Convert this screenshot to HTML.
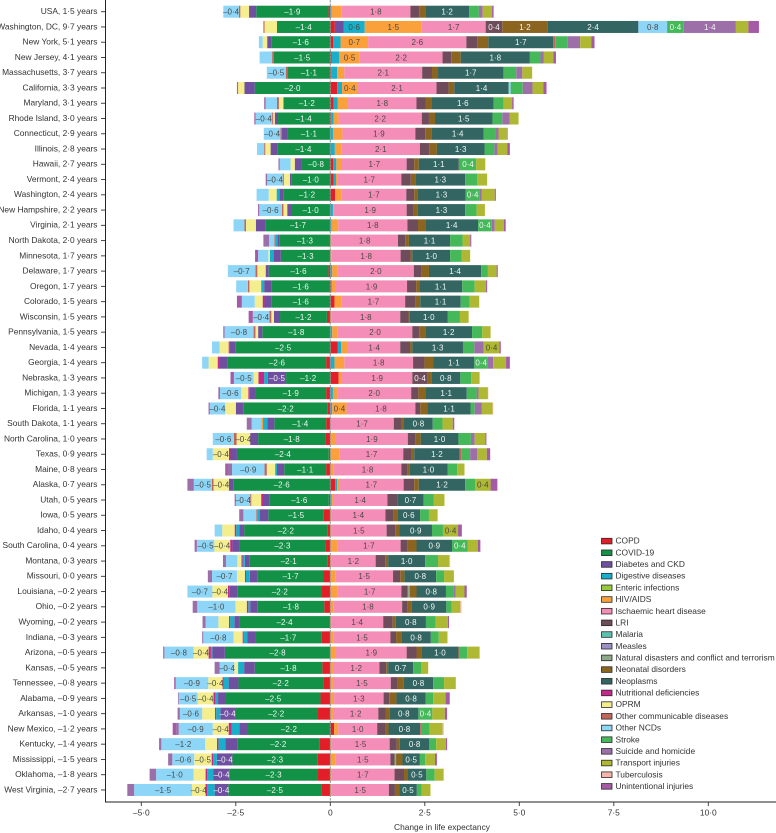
<!DOCTYPE html>
<html lang="en">
<head>
<meta charset="utf-8">
<title>Change in life expectancy by state and cause</title>
<style>
html,body{margin:0;padding:0;background:#fff;}
svg{display:block;}
text{font-family:"Liberation Sans",sans-serif;}
</style>
</head>
<body>
<svg id="chart" xmlns="http://www.w3.org/2000/svg" width="776" height="833" viewBox="0 0 776 833"></svg>
<script>
const causes = ["COPD","COVID-19","Diabetes and CKD","Digestive diseases","Enteric infections","HIV/AIDS","Ischaemic heart disease","LRI","Malaria","Measles","Natural disasters and conflict and terrorism","Neonatal disorders","Neoplasms","Nutritional deficiencies","OPRM","Other communicable diseases","Other NCDs","Stroke","Suicide and homicide","Transport injuries","Tuberculosis","Unintentional injuries"];
const causeColors = ["#e21f28","#129147","#6f4fa0","#17afc9","#97c93d","#fba13c","#f48db7","#6f4c5b","#5cc2ad","#9c8fc4","#8fa98a","#8b6520","#336663","#c4288a","#f5ee8f","#c2665a","#8ed6f8","#45b95a","#9d6fa8","#afb832","#f6b5a8","#a55aa5"];
const darkLabelCauses = ["Digestive diseases","HIV/AIDS","Ischaemic heart disease","OPRM","Other NCDs","Transport injuries"];
const stateLabels = ["USA, 1·5 years","Washington, DC, 9·7 years","New York, 5·1 years","New Jersey, 4·1 years","Massachusetts, 3·7 years","California, 3·3 years","Maryland, 3·1 years","Rhode Island, 3·0 years","Connecticut, 2·9 years","Illinois, 2·8 years","Hawaii, 2·7 years","Vermont, 2·4 years","Washington, 2·4 years","New Hampshire, 2·2 years","Virginia, 2·1 years","North Dakota, 2·0 years","Minnesota, 1·7 years","Delaware, 1·7 years","Oregon, 1·7 years","Colorado, 1·5 years","Wisconsin, 1·5 years","Pennsylvania, 1·5 years","Nevada, 1·4 years","Georgia, 1·4 years","Nebraska, 1·3 years","Michigan, 1·3 years","Florida, 1·1 years","South Dakota, 1·1 years","North Carolina, 1·0 years","Texas, 0·9 years","Maine, 0·8 years","Alaska, 0·7 years","Utah, 0·5 years","Iowa, 0·5 years","Idaho, 0·4 years","South Carolina, 0·4 years","Montana, 0·3 years","Missouri, 0·0 years","Louisiana, –0·2 years","Ohio, –0·2 years","Wyoming, –0·2 years","Indiana, –0·3 years","Arizona, –0·5 years","Kansas, –0·5 years","Tennessee, –0·8 years","Alabama, –0·9 years","Arkansas, –1·0 years","New Mexico, –1·2 years","Kentucky, –1·4 years","Mississippi, –1·5 years","Oklahoma, –1·8 years","West Virginia, –2·7 years"];
const xTickValues = [-5,-2.5,0,2.5,5,7.5,10];
const xTickLabels = ["–5·0","–2·5","0","2·5","5·0","7·5","10·0"];

/* Each state's values follow the order of the causes array. */
const usa = [-.05,-1.91,-.19,.03,0,.26,1.83,.23,0,0,0,.16,1.16,0,-.23,-.04,-.41,.26,.1,.25,0,.04];
const dc = [.12,-1.41,.23,.56,0,1.51,1.69,.44,0,0,0,1.2,2.4,0,-.33,-.03,.76,.44,1.38,.33,0,.28];
const newYork = [.08,-1.56,-.11,.19,0,.73,2.6,.29,0,0,0,.29,1.72,0,-.12,.05,-.1,.33,.33,.3,0,.08];
const newJersey = [.04,-1.49,0,.2,0,.54,2.19,.23,0,0,0,.25,1.83,0,0,-.05,-.33,.28,.09,.25,0,.07];
const massachusetts = [.02,-1.13,0,.16,0,.19,2.06,.26,0,0,0,.16,1.73,0,0,-.05,-.5,.34,.16,.26,0,0];
const california = [.18,-2.0,-.27,.13,0,.41,2.09,.32,0,0,0,.15,1.44,0,-.17,-.03,.05,.32,.26,.29,0,.08];
const maryland = [.09,-1.24,0,.11,0,.27,1.81,.25,0,0,0,.16,1.63,0,-.12,-.05,-.3,.26,-.04,.23,0,.04];
const rhodeIsland = [.02,-1.41,-.06,.07,0,.13,2.2,.19,0,0,0,.16,1.52,0,-.04,-.03,-.44,.26,.19,.24,0,-.03];
const connecticut = [0,-1.13,-.15,.07,0,.25,1.93,.26,0,0,0,.17,1.38,0,0,-.04,-.44,.3,.09,.22,0,.02];
const illinois = [-.02,-1.38,-.18,.12,0,.18,2.07,.25,0,0,0,.2,1.26,0,-.14,-.03,-.19,.26,.09,.25,0,.07];
const hawaii = [.08,-.76,-.18,.08,0,.15,1.71,.2,0,0,0,.12,1.06,0,-.11,.03,-.29,.43,0,.24,0,-.03];
const vermont = [.09,-1.03,-.04,.06,0,.03,1.7,.25,0,0,0,.12,1.32,0,-.16,-.03,-.41,.32,-.04,.26,0,0];
const washington = [.13,-1.23,-.12,-.07,0,.17,1.71,.21,0,0,0,.08,1.28,0,-.21,0,-.32,.37,.06,.34,0,.03];
const newHampshire = [0,-1.04,-.1,.07,0,.02,1.93,.19,0,0,0,.1,1.26,0,-.1,-.04,-.6,.3,0,.22,0,-.03];
const virginia = [0,-1.71,-.26,.03,0,.18,1.83,.28,0,0,0,.19,1.4,0,-.26,-.04,-.29,.36,.08,.24,0,.05];
const northDakota = [0,-1.34,-.06,-.04,0,.03,1.76,.19,0,0,0,.1,1.09,0,0,-.04,-.14,.33,-.15,.2,0,.03];
const minnesota = [0,-1.31,-.19,-.1,0,.04,1.82,.26,0,0,0,.05,1.0,0,-.04,0,-.27,.3,0,.23,0,-.08];
const delaware = [-.05,-1.58,-.08,.05,0,.15,2.01,.2,0,0,0,.2,1.38,0,-.22,-.05,-.73,.18,0,.23,0,.03];
const oregon = [.03,-1.56,-.19,-.08,0,.12,1.88,.24,0,0,0,.08,1.14,0,-.31,-.04,-.31,.33,0,.3,0,.03];
const colorado = [.11,-1.56,-.18,0,0,.19,1.68,.28,0,0,0,.12,1.07,-.05,-.21,0,-.34,.24,0,.25,0,-.13];
const wisconsin = [-.09,-1.24,-.16,0,0,.03,1.82,.22,0,0,0,.03,1.01,0,-.07,-.05,-.44,.32,0,.23,0,-.11];
const pennsylvania = [0,-1.8,-.11,.05,0,.15,1.97,.18,0,0,0,.16,1.24,0,-.07,-.05,-.77,.27,0,.22,0,-.03];
const nevada = [.2,-2.5,-.16,.09,0,.18,1.38,.26,0,0,0,.06,1.34,-.03,-.24,0,-.2,.3,.25,.41,0,.04];
const georgia = [-.11,-2.6,-.22,.11,0,.26,1.82,.3,0,0,0,.24,1.08,-.05,-.24,0,-.17,.36,.14,.34,0,.1];
const nebraska = [.22,-1.17,-.48,-.1,0,.09,1.86,.41,0,0,0,.09,.77,-.15,-.13,0,-.52,.29,0,.22,0,-.09];
const michigan = [-.11,-1.87,-.15,.07,0,.11,1.96,.19,0,0,0,.19,1.09,-.04,-.19,0,-.56,.26,.05,.25,.01,-.04];
const florida = [-.07,-2.22,-.21,.05,0,.38,1.82,.13,0,0,0,.19,1.14,0,-.28,0,-.41,.11,.19,.28,.02,-.03];
const southDakota = [-.11,-1.37,-.19,-.11,0,-.04,1.68,.19,0,0,0,.08,.76,0,0,0,-.26,.26,-.13,.27,0,.04];
const northCarolina = [-.13,-1.78,-.21,0,0,.15,1.9,.2,0,0,0,.14,1.0,0,-.36,-.07,-.56,.33,.1,.28,0,.03];
const texas = [-.04,-2.43,-.17,0,0,.25,1.68,.22,0,0,0,.07,1.2,-.04,-.43,.04,-.16,.24,.19,.25,0,.09];
const maine = [-.11,-1.11,-.19,-.05,0,.09,1.79,.17,0,0,0,.04,1.01,0,-.22,-.06,-.86,.26,-.12,.19,0,-.06];
const alaska = [.13,-2.57,-.11,.05,0,.05,1.71,.28,0,0,0,.12,1.23,0,-.41,-.04,-.48,.26,-.17,.41,0,.18];
const utah = [-.04,-1.56,-.18,.04,0,.03,1.44,.26,0,0,0,0,.7,-.05,-.26,-.03,-.38,.26,0,.29,0,-.03];
const iowa = [-.17,-1.47,-.22,-.07,0,.02,1.44,.2,0,0,0,.11,.61,0,0,-.03,-.34,.23,-.11,.23,0,0];
const idaho = [-.07,-2.21,-.13,-.08,0,.02,1.47,.23,0,0,0,.11,.86,-.04,-.33,0,-.2,.29,0,.4,0,.1];
const southCarolina = [-.13,-2.27,-.19,0,0,.18,1.68,.19,0,0,0,.23,.94,-.06,-.42,0,-.46,.41,-.06,.27,0,.07];
const montana = [-.07,-2.06,-.13,-.06,0,.02,1.18,.25,0,0,0,.08,.98,-.03,-.11,0,-.3,.34,-.08,.29,.03,0];
const missouri = [-.18,-1.74,-.21,-.1,0,.13,1.53,.19,0,0,0,.11,.84,-.03,-.21,0,-.66,.21,-.11,.26,0,0];
const louisiana = [-.22,-2.23,-.21,0,0,.2,1.68,.17,0,0,.05,.18,.78,-.05,-.41,0,-.66,.19,.07,.23,0,.06];
const ohio = [-.16,-1.76,-.2,-.05,0,.09,1.81,.15,0,0,0,.11,.91,-.04,-.3,0,-1.01,.14,-.12,.23,.03,0];
const wyoming = [-.02,-2.38,-.14,-.11,0,.02,1.38,.25,0,0,0,.08,.8,-.03,-.28,0,-.34,.26,-.08,.32,0,.03];
const indiana = [-.24,-1.74,-.22,-.09,0,.09,1.5,.15,0,0,0,.14,.78,-.03,-.24,0,-.8,.21,-.03,.23,0,0];
const arizona = [0,-2.79,-.33,-.04,0,.15,1.87,.26,0,0,0,.13,.98,-.06,-.4,.03,-.77,.2,0,.33,0,-.03];
const kansas = [-.21,-1.79,-.28,-.16,0,.07,1.23,.18,0,0,0,.05,.66,0,-.1,0,-.39,.21,-.13,.19,0,0];
const tennessee = [-.19,-2.24,-.26,-.13,0,.07,1.53,.18,0,0,0,.16,.78,-.03,-.38,0,-.86,.29,0,.31,0,-.04];
const alabama = [-.26,-2.5,-.21,-.07,0,.1,1.31,.15,0,0,0,.19,.77,-.05,-.42,0,-.5,.2,-.02,.33,0,.11];
const arkansas = [-.34,-2.18,-.39,-.11,0,.07,1.2,.19,0,0,0,.1,.77,-.03,-.34,0,-.59,.37,-.06,.33,0,.06];
const newMexico = [.1,-2.19,-.22,-.2,0,.11,1.03,.23,0,0,0,.07,.84,-.08,-.42,.02,-.9,.23,-.07,.34,.03,-.09];
const kentucky = [-.29,-2.17,-.32,-.18,0,.03,1.54,.19,0,0,0,.08,.78,-.04,-.31,0,-1.16,.18,-.06,.26,0,.03];
const mississippi = [-.33,-2.26,-.41,-.1,0,.13,1.46,.11,0,0,.04,.17,.46,-.04,-.46,0,-.58,.14,-.11,.26,0,.05];
const oklahoma = [-.34,-2.32,-.43,-.17,0,.02,1.68,.25,0,0,0,.09,.5,-.04,-.32,0,-.99,.22,-.17,.23,.02,0];
const westVirginia = [-.23,-2.47,-.36,-.2,0,.03,1.52,.16,0,0,0,.11,.47,-.04,-.36,0,-1.53,.13,-.18,.23,0,0];

const stateValues = [usa,dc,newYork,newJersey,massachusetts,california,maryland,rhodeIsland,connecticut,illinois,hawaii,vermont,washington,newHampshire,virginia,northDakota,minnesota,delaware,oregon,colorado,wisconsin,pennsylvania,nevada,georgia,nebraska,michigan,florida,southDakota,northCarolina,texas,maine,alaska,utah,iowa,idaho,southCarolina,montana,missouri,louisiana,ohio,wyoming,indiana,arizona,kansas,tennessee,alabama,arkansas,newMexico,kentucky,mississippi,oklahoma,westVirginia];

const NS = "http://www.w3.org/2000/svg";
const svg = document.getElementById("chart");
const xZero = 330.3, xPerUnit = 37.8;
const rowFirst = 11.7, rowStep = 15.26, barHeight = 12;
const axisLeft = 105.5, axisBottom = 802;
const textColor = "#333333";

function xScale(v){ return xZero + v * xPerUnit; }
function yScale(i){ return rowFirst + i * rowStep; }
function make(tag, attrs, parent){
  const el = document.createElementNS(NS, tag);
  for (const k in attrs) el.setAttribute(k, attrs[k]);
  (parent || svg).appendChild(el);
  return el;
}
function fmt(v){
  const s = Math.abs(v).toFixed(1).replace(".", "·");
  return v < 0 ? "–" + s : s;
}

const barsGroup = make("g", {});


const labelsGroup = make("g", {});



stateLabels.forEach(function(label, i){
  const yMid = yScale(i);
  let neg = 0, pos = 0;
  stateValues[i].forEach(function(v, c){
    if (v === 0) return;
    const start = v < 0 ? neg : pos;
    const end = start + v;
    if (v < 0) neg = end; else pos = end;
    const x0 = xScale(Math.min(start, end));
    const x1 = xScale(Math.max(start, end));
    const rect = make("rect", {x: x0, y: yMid - barHeight / 2, width: x1 - x0, height: barHeight, fill: causeColors[c]}, barsGroup);
    
    
    if (Math.abs(v) >= 0.35) {
      const dark = darkLabelCauses.indexOf(causes[c]) >= 0;
      const t = make("text", {x: (x0 + x1) / 2, y: yMid + 2.9, "text-anchor": "middle", "font-size": 8, fill: dark ? "#4a4a44" : "#f2f6f4"}, labelsGroup);
      
      
      t.textContent = fmt(v);
    }
  });
  const tick = make("line", {x1: axisLeft - 4.5, x2: axisLeft, y1: yMid, y2: yMid, stroke: "#333", "stroke-width": 0.9});
  
  
  const yt = make("text", {x: 97.5, y: yMid + 2.4, "text-anchor": "end", "font-size": 8.4, fill: textColor});
  
  
  yt.textContent = label;
});

const zeroLine = make("line", {x1: xZero, x2: xZero, y1: 0, y2: axisBottom, stroke: "#8a979c", "stroke-width": 1, "stroke-dasharray": "2.5 1"});



const yAxis = make("line", {x1: axisLeft, x2: axisLeft, y1: 0, y2: axisBottom + 0.5, stroke: "#222", "stroke-width": 1});


const xAxis = make("line", {x1: axisLeft, x2: 776, y1: axisBottom, y2: axisBottom, stroke: "#222", "stroke-width": 1});



xTickValues.forEach(function(v, i){
  const x = xScale(v);
  const tick = make("line", {x1: x, x2: x, y1: axisBottom, y2: axisBottom + 4, stroke: "#333", "stroke-width": 0.9});
  
  
  const t = make("text", {x: x, y: 815.5, "text-anchor": "middle", "font-size": 8.4, fill: textColor});
  
  
  t.textContent = xTickLabels[i];
});

const xTitle = make("text", {x: 442, y: 830, "text-anchor": "middle", "font-size": 8.4, fill: textColor});


xTitle.textContent = "Change in life expectancy";

const legend = make("g", {});


causes.forEach(function(name, i){
  const y = 541 + i * 11.68;
  const sw = make("rect", {x: 601.5, y: y - 2.7, width: 10.5, height: 5.6, fill: causeColors[i], stroke: "#2a2a2a", "stroke-width": 0.8}, legend);
  
  
  const t = make("text", {x: 615.5, y: y + 2.7, "font-size": 8.4, fill: textColor}, legend);
  
  
  t.textContent = name;
});
</script>
</body>
</html>
